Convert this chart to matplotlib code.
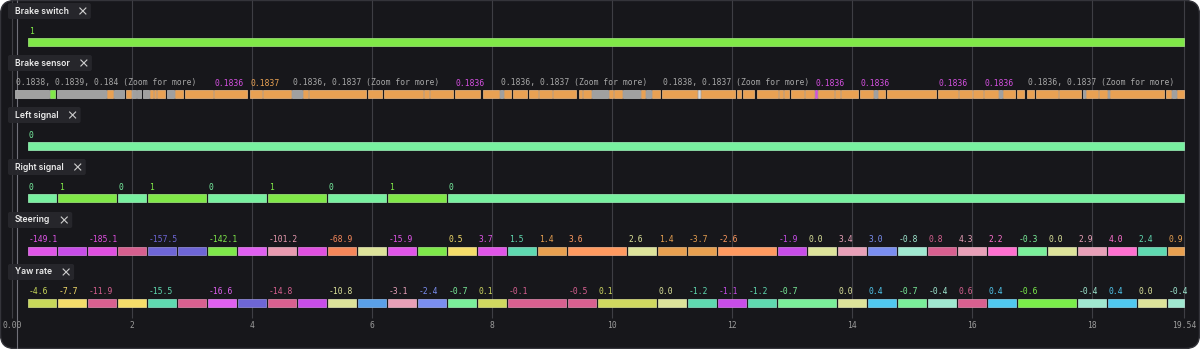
import numpy as np
import matplotlib
matplotlib.use('Agg')
import matplotlib.pyplot as plt
from matplotlib.patches import FancyBboxPatch
from matplotlib import colors as mcolors

# ---------------- data ----------------
track_names = ['Brake switch', 'Brake sensor', 'Left signal', 'Right signal', 'Steering', 'Yaw rate']
t_end = 19.54
tick_values = [0, 2, 4, 6, 8, 10, 12, 14, 16, 18, 19.54]
tick_labels = ['0.00', '2', '4', '6', '8', '10', '12', '14', '16', '18', '19.54']
cursor_t = 0.09

GREEN = '#80e848'
MINT = '#78f0a0'

# brake switch / signals: change times and values
switch_times = [0.27]
switch_values = ['1']
switch_colors = [GREEN]

left_times = [0.27]
left_values = ['0']
left_colors = [MINT]

right_times = [0.27, 0.77, 1.77, 2.27, 3.27, 4.27, 5.27, 6.27, 7.27]
right_values = ['0', '1', '0', '1', '0', '1', '0', '1', '0']
right_colors = [MINT, GREEN, MINT, GREEN, MINT, GREEN, MINT, GREEN, MINT]

# brake sensor segments (seconds)
sensor_start = [0.05, 0.633, 0.75, 1.583, 1.70, 1.90, 2.00, 2.083, 2.183, 2.30,
                2.367, 2.417, 2.583, 2.717, 2.883, 3.367, 3.967, 4.183, 4.667, 4.85,
                4.95, 5.933, 6.20, 6.867, 6.967, 7.383, 7.85, 8.133, 8.20, 8.35,
                8.617, 8.783, 9.017, 9.45, 9.517, 9.667, 9.95, 10.033, 10.183, 10.483,
                10.567, 10.667, 10.833, 11.433, 11.483, 12.083, 12.183, 12.417, 12.783, 12.867,
                12.983, 13.217, 13.383, 13.433, 13.717, 13.817, 14.133, 14.367, 14.433, 14.583,
                15.433, 15.783, 16.017, 16.20, 16.45, 16.517, 16.75, 16.917, 17.067, 17.45,
                17.85, 17.90, 18.117, 18.267, 18.30, 19.233, 19.333, 19.417]
sensor_end = [0.617, 0.717, 1.567, 1.683, 1.867, 1.983, 2.067, 2.15, 2.283, 2.35,
              2.40, 2.55, 2.70, 2.85, 3.35, 3.917, 4.167, 4.65, 4.833, 4.933,
              5.90, 6.167, 6.85, 6.95, 7.35, 7.80, 8.117, 8.183, 8.317, 8.583,
              8.767, 9.00, 9.40, 9.50, 9.65, 9.933, 10.017, 10.167, 10.467, 10.55,
              10.65, 10.80, 11.417, 11.467, 12.05, 12.15, 12.367, 12.767, 12.85, 12.95,
              13.20, 13.367, 13.417, 13.70, 13.80, 14.10, 14.35, 14.417, 14.55, 15.40,
              15.767, 16.00, 16.183, 16.433, 16.50, 16.717, 16.867, 17.033, 17.433, 17.817,
              17.883, 18.10, 18.25, 18.283, 19.20, 19.317, 19.40, 19.54]
sensor_kind = ('GgGOGOGGGO' 'OOGOOOOOGO' 'OOOOOOOGOO' 'OOOOOGOOGO'
               'GOOWOOOOOO' 'OOMOOOOGOO' 'OOOOGOOOOO' 'GOOGOOGO')
sensor_palette = {'G': '#a0a0a0', 'g': GREEN, 'O': '#e9a153', 'M': '#d84fd8', 'W': '#d8d8d8'}
sensor_label_idx = [0, 15, 16, 18, 25, 27, 42, 52, 56, 60, 63, 67]
sensor_label_text = ['0.1838, 0.1839, 0.184 (Zoom for more)', '0.1836', '0.1837',
                     '0.1836, 0.1837 (Zoom for more)', '0.1836', '0.1836, 0.1837 (Zoom for more)',
                     '0.1838, 0.1837 (Zoom for more)', '0.1836', '0.1836', '0.1836', '0.1836',
                     '0.1836, 0.1837 (Zoom for more)']
sensor_label_kind = ['G', 'M', 'O', 'G', 'M', 'G', 'G', 'M', 'M', 'M', 'M', 'G']

# steering: segment durations (s), values (None = label hidden), colours
steer_t0 = 0.27
steer_dur = [0.5] * 18 + [1.0] + [0.5] * 3 + [1.0] + [0.5] * 13 + [0.27]
steer_values = [-149.1, None, -185.1, None, -157.5, None, -142.1, None, -101.2, None,
                -68.9, None, -15.9, None, 0.5, 3.7, 1.5, 1.4, 3.6, 2.6,
                1.4, -3.7, -2.6, -1.9, 0.0, 3.4, 3.0, -0.8, 0.8, 4.3,
                2.2, -0.3, 0.0, 2.9, 4.0, 2.4, 0.9]
steer_colors = ['#e055e8', '#c84de8', '#df4fe0', '#d6608f', '#6e66d6', '#6e66d6', '#7ee84a',
                '#e060f0', '#e89ab0', '#e050e0', '#f5875a', '#dde39a', '#e055e8', '#7ee84a',
                '#f5dd6a', '#e055e8', '#5fd9b0', '#e8a050', '#ff9a60', '#dde39a', '#e8a050',
                '#e8a050', '#ff9a60', '#c84de8', '#dde39a', '#e8a0b8', '#7a8ef0', '#a0e8d0',
                '#d86090', '#e8a0b8', '#ff70d0', '#7aef9a', '#dde39a', '#e8a0b8', '#ff70d0',
                '#5fd9b0', '#e8a050']

# yaw rate
yaw_t0 = 0.27
yaw_dur = [0.5] * 16 + [1.0, 0.5, 1.0] + [0.5] * 4 + [1.0] + [0.5] * 6 + [1.0] + [0.5] * 3 + [0.27]
yaw_values = [-4.6, -7.7, -11.9, None, -15.5, None, -16.6, None, -14.8, None,
              -10.8, None, -3.1, -2.4, -0.7, 0.1, -0.1, -0.5, 0.1, 0.0,
              -1.2, -1.1, -1.2, -0.7, 0.0, 0.4, -0.7, -0.4, 0.6, 0.4,
              -0.6, -0.4, 0.4, 0.0, -0.4]
yaw_colors = ['#c8d85a', '#f5dd6a', '#d86090', '#f5dd6a', '#5fd9b0', '#d86090', '#e060f0',
              '#6e66d6', '#d86090', '#c84de8', '#dde39a', '#5aa0e8', '#e8a0b8', '#7a8ef0',
              '#7aef9a', '#d0d860', '#d86090', '#d86090', '#d0d860', '#dde39a', '#5fd9b0',
              '#c84de8', '#5fd9b0', '#7aef9a', '#dde39a', '#50c8f0', '#7aef9a', '#a0e8d0',
              '#d86090', '#50c8f0', '#7aee4a', '#a0e8d0', '#50c8f0', '#dde39a', '#a0e8d0']

# ---------------- style ----------------
BG = '#17171b'
BOX = '#27272c'
GRID = '#3e3e44'
TICK = '#9c9c9c'
MONO = 'DejaVu Sans Mono'
W, H = 1200, 349
BAR_H = 8
GAP = 2 / 60
bar_tops = [38, 90, 142, 194, 247, 299]

fig = plt.figure(figsize=(W / 100, H / 100), dpi=100)
fig.patch.set_facecolor('white')

bg = fig.add_axes([0, 0, 1, 1])
bg.set_xlim(0, W)
bg.set_ylim(H, 0)
bg.axis('off')
bg.add_patch(FancyBboxPatch((0.5, 0.5), W - 1, H - 1,
                            boxstyle='round,pad=0,rounding_size=14',
                            facecolor=BG, edgecolor='#34343a', linewidth=1))

ax = fig.add_axes([0, 0, 1, 1])
ax.set_xlim(-0.2, 19.8)
ax.set_ylim(H, 0)
ax.axis('off')
ax.patch.set_visible(False)

ov = fig.add_axes([0, 0, 1, 1])
ov.set_xlim(0, W)
ov.set_ylim(H, 0)
ov.axis('off')
ov.patch.set_visible(False)
bg.set_zorder(0)
ax.set_zorder(1)
ov.set_zorder(2)

# grid + ticks
ax.vlines(tick_values, 0, 318, colors=GRID, linewidth=0.8, zorder=1)
ax.vlines([cursor_t], 0, H, colors='#707078', linewidth=0.8, zorder=1)
for tv, tl in zip(tick_values, tick_labels):
    ax.text(tv, 325, tl, ha='center', va='center', fontsize=5.8,
            family=MONO, color=TICK)


def lighten(c, amt=0.3):
    r, g, b = mcolors.to_rgb(c)
    return (r + (1 - r) * amt, g + (1 - g) * amt, b + (1 - b) * amt)


def draw_segments(row, starts, ends, colors, labels, label_colors):
    top = bar_tops[row]
    for s, e, c in zip(starts, ends, colors):
        ax.broken_barh([(s, e - s)], (top, BAR_H), facecolors=c,
                       edgecolors=[lighten(c)], linewidth=0.5, zorder=3)
    for s, lab, lc in zip(starts, labels, label_colors):
        if lab:
            ax.text(s + 0.01, top - 2.5, lab, ha='left', va='bottom', fontsize=5.8,
                    family=MONO, color=lc, zorder=4)


def from_times(times):
    ends = [t - GAP for t in times[1:]] + [t_end]
    return times, ends


def from_durations(t0, durs):
    edges = t0 + np.concatenate([[0], np.cumsum(durs)])
    starts = list(edges[:-1])
    ends = [t - GAP for t in edges[1:-1]] + [t_end]
    return starts, ends


s, e = from_times(switch_times)
draw_segments(0, s, e, switch_colors, switch_values, switch_colors)

sensor_colors = [sensor_palette[k] for k in sensor_kind]
sensor_labels = [''] * len(sensor_start)
sensor_lcolors = ['#a0a0a0'] * len(sensor_start)
for i, txt, k in zip(sensor_label_idx, sensor_label_text, sensor_label_kind):
    sensor_labels[i] = txt
    sensor_lcolors[i] = {'G': '#a8a8a8', 'M': '#d450e0', 'O': '#e9a153'}[k]
draw_segments(1, sensor_start, sensor_end, sensor_colors, sensor_labels, sensor_lcolors)

s, e = from_times(left_times)
draw_segments(2, s, e, left_colors, left_values, left_colors)

s, e = from_times(right_times)
draw_segments(3, s, e, right_colors, right_values, right_colors)

s, e = from_durations(steer_t0, steer_dur)
labs = ['' if v is None else f'{v:.1f}' for v in steer_values]
draw_segments(4, s, e, steer_colors, labs, steer_colors)

s, e = from_durations(yaw_t0, yaw_dur)
labs = ['' if v is None else f'{v:.1f}' for v in yaw_values]
draw_segments(5, s, e, yaw_colors, labs, yaw_colors)

# track title chips
fig.canvas.draw()
renderer = fig.canvas.get_renderer()
for name, top in zip(track_names, bar_tops):
    box_top = top - 35
    cy = box_top + 8
    txt = ov.text(15, cy, name, ha='left', va='center', fontsize=6.2,
                  family=['Inter', 'DejaVu Sans'], fontweight='semibold',
                  color='#ececec', zorder=6)
    bb = txt.get_window_extent(renderer)
    xc = 15 + bb.width + 14
    ov.add_patch(FancyBboxPatch((8, box_top), xc, 16,
                                boxstyle='round,pad=0,rounding_size=2',
                                facecolor=BOX, edgecolor='none', alpha=0.95, zorder=5))
    ov.plot([xc - 3, xc + 3], [cy - 3, cy + 3], color='#d0d0d0', lw=0.8, zorder=6)
    ov.plot([xc - 3, xc + 3], [cy + 3, cy - 3], color='#d0d0d0', lw=0.8, zorder=6)

fig.savefig('out.png', dpi=100, facecolor='white')
